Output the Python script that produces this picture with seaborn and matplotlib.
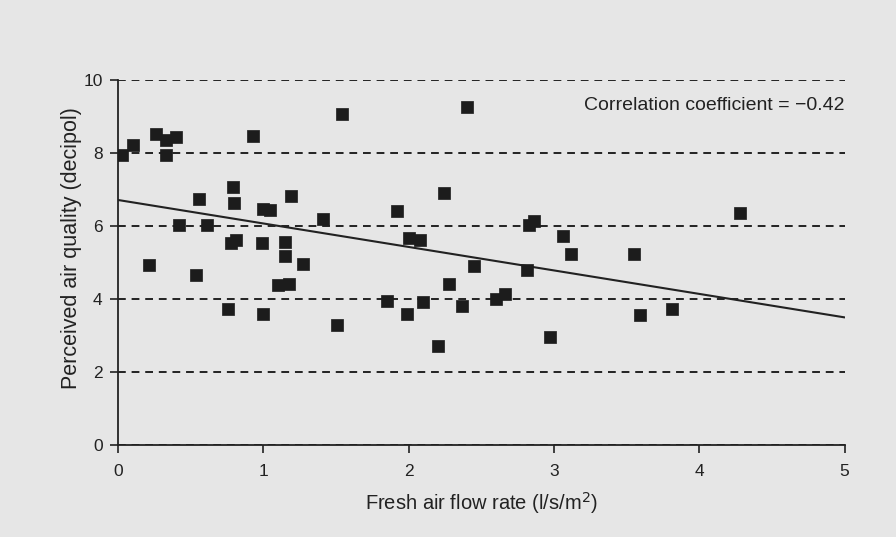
import matplotlib
matplotlib.use("Agg")
import matplotlib.pyplot as plt
import numpy as np
import pandas as pd
import seaborn as sns

# fresh air flow rate (l/s/m2) vs perceived air quality (decipol)
flow = [0.03, 0.10, 0.26, 0.33, 0.40, 0.33, 0.93, 1.54, 2.40, 0.79,
        0.80, 0.555, 1.19, 1.00, 1.045, 1.41, 0.42, 0.61, 0.78, 0.81,
        0.99, 1.15, 1.15, 1.27, 0.215, 0.54, 1.10, 1.18, 0.76, 0.995,
        1.51, 2.24, 1.92, 2.83, 2.86, 3.06, 3.12, 2.00, 2.08, 2.45,
        2.815, 2.28, 1.85, 2.10, 1.99, 2.37, 2.60, 2.66, 2.20, 2.97,
        4.28, 3.55, 3.59, 3.81]
quality = [7.95, 8.22, 8.54, 8.36, 8.45, 7.95, 8.47, 9.07, 9.26, 7.07,
           6.63, 6.74, 6.84, 6.48, 6.45, 6.19, 6.04, 6.04, 5.55, 5.62,
           5.53, 5.56, 5.18, 4.97, 4.93, 4.67, 4.39, 4.41, 3.74, 3.59,
           3.30, 6.92, 6.42, 6.04, 6.13, 5.72, 5.25, 5.69, 5.63, 4.91,
           4.80, 4.42, 3.95, 3.92, 3.60, 3.81, 4.00, 4.13, 2.71, 2.97,
           6.36, 5.24, 3.56, 3.74]

# regression line as drawn
fit_x = [0, 5]
fit_y = [6.72, 3.50]

df = pd.DataFrame({"flow": flow, "quality": quality})
fit = pd.DataFrame({"flow": fit_x, "quality": fit_y})

bg = "#e6e6e6"
ink = "#222222"

sns.set_style("ticks")
plt.rcParams["font.family"] = ["Liberation Sans", "DejaVu Sans"]

fig = plt.figure(figsize=(8.96, 5.37), dpi=100, facecolor=bg)
ax = fig.add_axes([0.1317, 0.1713, 0.811, 0.679], facecolor=bg)

ax.grid(axis="y", linestyle=(0, (4, 3)), color=ink, linewidth=1.4)
ax.set_axisbelow(True)

sns.lineplot(data=fit, x="flow", y="quality", color=ink, linewidth=1.5, ax=ax)
sns.scatterplot(data=df, x="flow", y="quality", marker="s", s=85,
                color="#1c1c1c", edgecolor="#1c1c1c", linewidth=0.5, ax=ax, zorder=3)

ax.set_xlim(0, 5)
ax.set_ylim(0, 10)
ax.set_xticks(range(0, 6))
ax.set_yticks(range(0, 11, 2))
ax.tick_params(labelsize=12.5, colors=ink, length=6, width=1.2)
ax.tick_params(axis="x", pad=8)
ax.tick_params(axis="y", pad=5)
for s in ["top", "right"]:
    ax.spines[s].set_visible(False)
for s in ["left", "bottom"]:
    ax.spines[s].set_color(ink)
    ax.spines[s].set_linewidth(1.3)

ax.set_xlabel("Fresh air flow rate (l/s/m$^2$)", fontsize=14.5, color=ink, labelpad=8)
ax.set_ylabel("Perceived air quality (decipol)", fontsize=15.5, color=ink)
ax.yaxis.set_label_coords(-0.05, 0.54)

ax.text(5.0, 9.32, "Correlation coefficient = \u22120.42", ha="right", va="center",
        fontsize=14, color=ink)

fig.savefig("out.png", dpi=100, facecolor=bg)
